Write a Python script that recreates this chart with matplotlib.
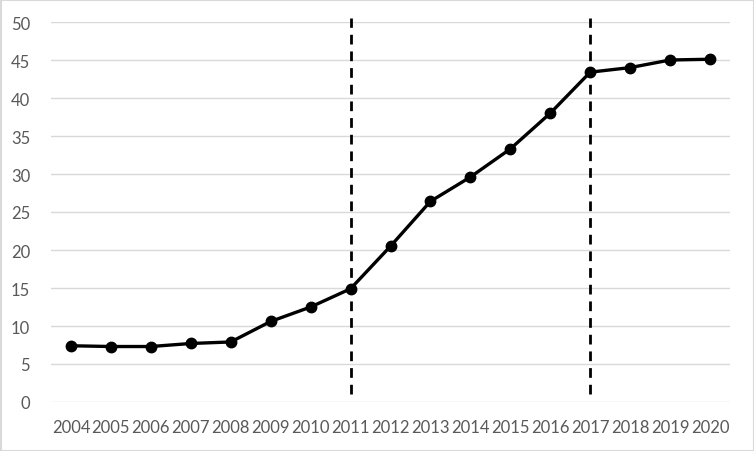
import numpy as np
import matplotlib.pyplot as plt
from matplotlib.patches import Rectangle

# data
years = ['2004', '2005', '2006', '2007', '2008', '2009', '2010', '2011', '2012',
         '2013', '2014', '2015', '2016', '2017', '2018', '2019', '2020']
values = [7.4, 7.3, 7.3, 7.7, 7.9, 10.6, 12.5, 14.9, 20.5,
          26.4, 29.6, 33.3, 38.0, 43.4, 44.0, 45.0, 45.1]
marker_years = ['2011', '2017']
yticks = [0, 5, 10, 15, 20, 25, 30, 35, 40, 45, 50]

plt.rcParams['font.family'] = ['Lato', 'DejaVu Sans']

fig = plt.figure(figsize=(7.54, 4.52), dpi=100)
ax = fig.add_axes([51/754, 1-403/452, (730-51)/754, (403-23)/452])

x = np.arange(len(years))
ax.plot(x, values, color='black', lw=2.4, marker='o', ms=7.5, zorder=3)

# dashed separators
for yr in marker_years:
    xi = years.index(yr)
    ax.plot([xi, xi], [1.0, 50.5], color='black', lw=2, ls=(0, (3.5, 2.5)),
            zorder=2, clip_on=False)

ax.set_xlim(-0.5, len(years) - 0.5)
ax.set_ylim(0, 50)
ax.set_yticks(yticks)
ax.set_xticks(x)
ax.set_xticklabels(years)
ax.grid(axis='y', color='#d9d9d9', lw=1)
ax.set_axisbelow(True)
for s in ax.spines.values():
    s.set_visible(False)
ax.tick_params(length=0, colors='#595959', labelsize=12)
ax.tick_params(axis='x', pad=12)
ax.tick_params(axis='y', pad=15)

fig.patches.append(Rectangle((0.5/754, 0.5/452), 1-1/754, 1-1/452, transform=fig.transFigure,
                             fill=False, edgecolor='#d9d9d9', lw=1.5))

fig.savefig('out.png', dpi=100)
